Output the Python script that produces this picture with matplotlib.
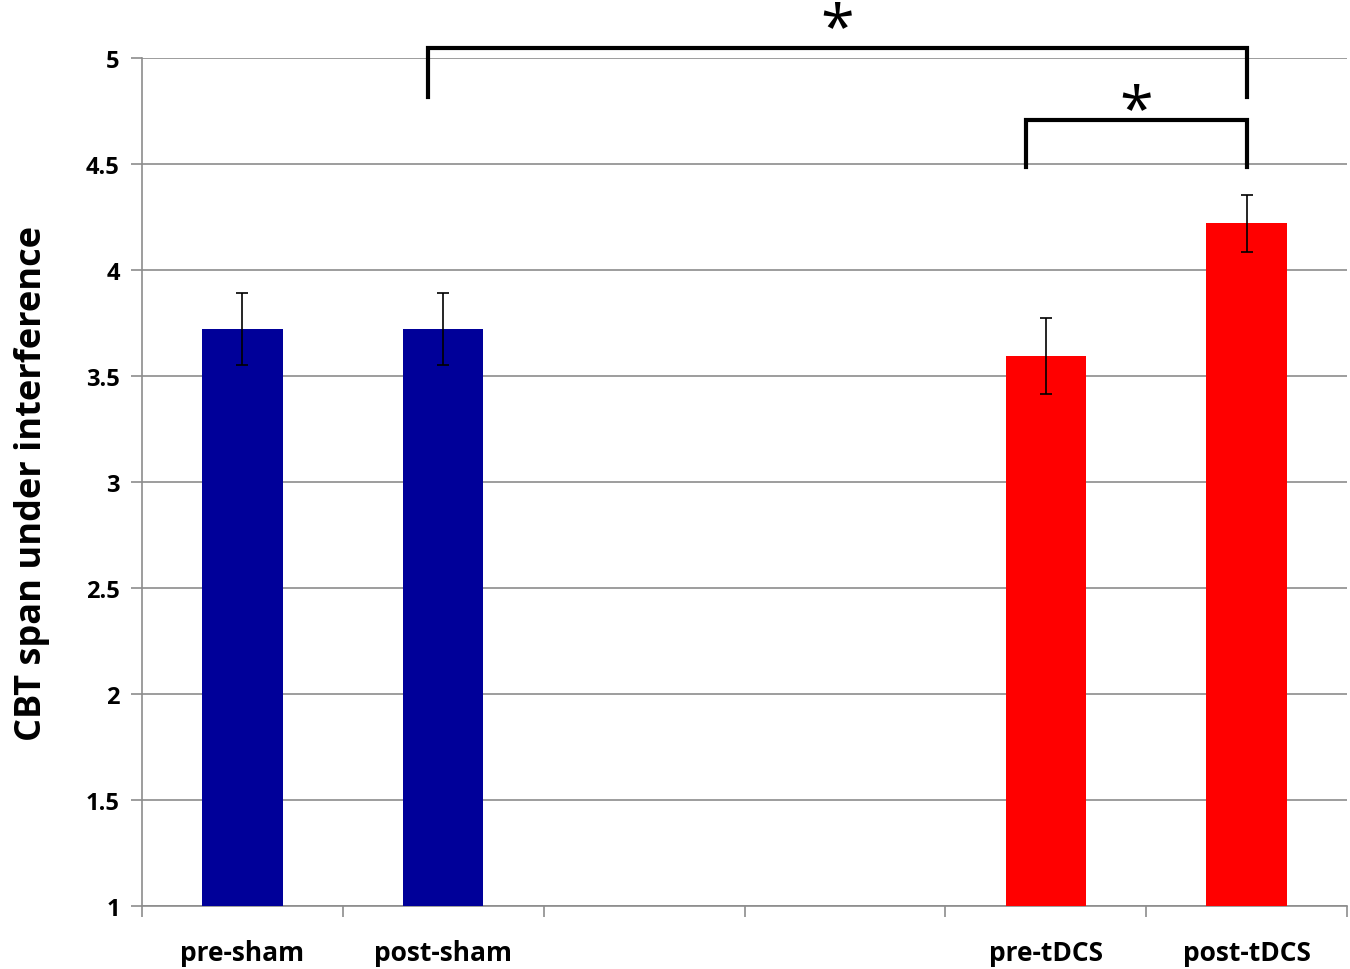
import matplotlib
matplotlib.use('Agg')
import matplotlib.pyplot as plt
import numpy as np

plt.rcParams['font.family'] = ['Open Sans', 'DejaVu Sans']

labels = ['pre-sham', 'post-sham', 'pre-tDCS', 'post-tDCS']
slots = [0, 1, 4, 5]
means = [3.72, 3.72, 3.595, 4.22]
errs = [0.17, 0.17, 0.18, 0.135]
colors = ['#000099', '#000099', '#ff0000', '#ff0000']

# significance brackets: (left x, right x, top, leg bottom, star y)
brackets = [(0.925, 5.0, 5.047, 4.816, 5.13), (3.9, 5.0, 4.708, 4.486, 4.745)]

fig = plt.figure(figsize=(13.5, 9.7), dpi=100)
ax = fig.add_axes([0.1052, 0.0649, 0.8926, 0.8742])

ax.bar(slots, [m - 1 for m in means], bottom=1, width=0.4, color=colors,
       zorder=3)
ax.errorbar(slots, means, yerr=errs, fmt='none', ecolor='black',
            elinewidth=1.2, capsize=4, capthick=1.2, zorder=4)

ax.set_xlim(-0.5, 5.5)
ax.set_ylim(1, 5)
ax.set_yticks(np.arange(1, 5.01, 0.5))
ax.set_yticklabels(['1', '1.5', '2', '2.5', '3', '3.5', '4', '4.5', '5'])
ax.yaxis.grid(True, color='#8c8c8c', linewidth=1.2, zorder=0)
ax.set_axisbelow(True)

ax.set_xticks(slots)
ax.set_xticklabels(labels)
ax.set_xticks(np.arange(-0.5, 5.6, 1), minor=True)
ax.tick_params(axis='x', which='major', length=0, pad=24)
ax.tick_params(axis='x', which='minor', length=8, color='#8c8c8c', width=1.2)
ax.tick_params(axis='y', length=8, color='#8c8c8c', width=1.2, pad=8)
for lab in ax.get_xticklabels():
    lab.set_fontsize(19)
    lab.set_fontweight('bold')
for lab in ax.get_yticklabels():
    lab.set_fontsize(17)
    lab.set_fontweight('bold')

for s in ['top', 'right']:
    ax.spines[s].set_visible(False)
for s in ['left', 'bottom']:
    ax.spines[s].set_color('#8c8c8c')
    ax.spines[s].set_linewidth(1.2)

ax.set_ylabel('CBT span under interference', fontsize=26, fontweight='bold',
              labelpad=26)

for x0, x1, top, low, sy in brackets:
    ax.plot([x0, x0, x1, x1], [low, top, top, low], color='black',
            linewidth=3, clip_on=False, zorder=5, solid_joinstyle='miter')
    ax.text((x0 + x1) / 2, sy, '*', ha='center', va='center',
            fontsize=44, clip_on=False)

fig.savefig('out.png', dpi=100)
